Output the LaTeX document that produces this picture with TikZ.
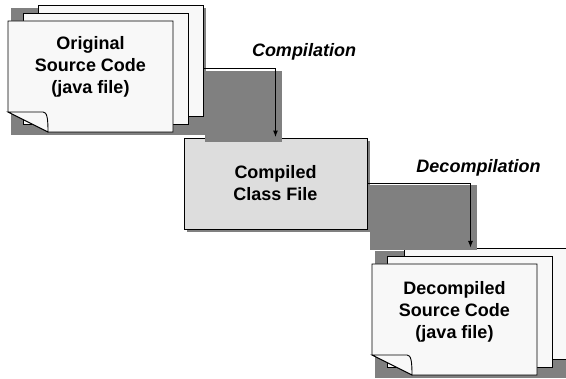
\documentclass[tikz,border=0pt]{standalone}
\usepackage{fontspec}
\setmainfont{Liberation Sans}
\usetikzlibrary{arrows.meta,fit,backgrounds}
\definecolor{sheetfill}{RGB}{248,248,248}
\definecolor{boxfill}{RGB}{221,221,221}
\definecolor{shadowgray}{RGB}{128,128,128}
\tikzset{
  sheet/.style={draw, fill=sheetfill, line width=0.9pt, minimum width=165pt, minimum height=111pt, inner sep=0pt, outer sep=0pt},
  doctext/.style={align=center, font=\fontsize{18}{22}\selectfont\bfseries},
  steplabel/.style={anchor=base, inner sep=0pt, font=\fontsize{18}{22}\selectfont\bfseries\itshape},
  flow/.style={line width=1.6pt, -{Latex[length=7pt,width=5pt]}},
  group/.style={inner sep=0pt, outer sep=0pt},
}
\begin{document}
\begin{tikzpicture}[x=1pt,y=-1pt]
    \useasboundingbox (0,0) rectangle (566,379);

    % 元のソースコード
    \node[sheet] (orig3) at (120.5,60.5) {};
    \node[sheet] (orig2) at (105.5,68.5) {};
    \node[sheet, draw=none, fill=none] (orig1) at (90.5,76.5) {};
    \filldraw[fill=sheetfill, line width=0.9pt] (orig1.north west) -- (orig1.north east) -- (orig1.south east)
      -- ([xshift=40pt]orig1.south west) -- ([yshift=20pt]orig1.south west) -- cycle;
    \filldraw[fill=sheetfill, line width=0.9pt] ([yshift=20pt]orig1.south west) -- ([shift={(35pt,20pt)}]orig1.south west)
      .. controls ([shift={(39pt,20pt)}]orig1.south west) and ([shift={(40pt,14pt)}]orig1.south west) .. ([xshift=40pt]orig1.south west) -- cycle;
    \node[doctext] (origtext) at ([yshift=10pt]orig1.center) {Original\\Source Code\\(java file)};
    \node[group, fit=(orig1)(orig3)] (origgrp) {};

    % クラスファイル
    \node[draw, fill=boxfill, line width=0.9pt, minimum width=183pt, minimum height=91pt, doctext] (compiled) at (275.5,183.5) {Compiled\\Class File};

    % 逆コンパイル後のソースコード
    \node[sheet] (decomp3) at (486.5,303.5) {};
    \node[sheet] (decomp2) at (469.5,311.5) {};
    \node[sheet, draw=none, fill=none] (decomp1) at (454.5,319.5) {};
    \filldraw[fill=sheetfill, line width=0.9pt] (decomp1.north west) -- (decomp1.north east) -- (decomp1.south east)
      -- ([xshift=40pt]decomp1.south west) -- ([yshift=20pt]decomp1.south west) -- cycle;
    \filldraw[fill=sheetfill, line width=0.9pt] ([yshift=20pt]decomp1.south west) -- ([shift={(35pt,20pt)}]decomp1.south west)
      .. controls ([shift={(39pt,20pt)}]decomp1.south west) and ([shift={(40pt,14pt)}]decomp1.south west) .. ([xshift=40pt]decomp1.south west) -- cycle;
    \node[doctext] (decomptext) at ([yshift=7.5pt]decomp1.center) {Decompiled\\Source Code\\(java file)};
    \node[group, fit=(decomp1)(decomp3)] (decompgrp) {};

    % 影
    \begin{pgfonlayer}{background}
      \fill[shadowgray] ([shift={(3pt,-3pt)}]origgrp.north west) rectangle ([shift={(3pt,-3pt)}]origgrp.south east);
      \fill[shadowgray] ([shift={(3pt,-3pt)}]compiled.north west) rectangle ([shift={(3pt,-3pt)}]compiled.south east);
      \fill[shadowgray] ([shift={(3pt,-3pt)}]decompgrp.north west) rectangle ([shift={(3pt,-3pt)}]decompgrp.south east);
    \end{pgfonlayer}

    % エッジ
    \fill[shadowgray] ([shift={(2pt,-2.5pt)}]origgrp.east) rectangle ([shift={(6.5pt,-4pt)}]compiled.north);
    \draw[flow] (origgrp.east) -| (compiled.north);
    \fill[shadowgray] ([shift={(3pt,-1.5pt)}]compiled.east) rectangle ([shift={(6.5pt,-2pt)}]decompgrp.north);
    \draw[flow] (compiled.east) -| (decompgrp.north);

    \node[steplabel] (complabel) at (304,57) {Compilation};
    \node[steplabel] (decomplabel) at (478.5,172.5) {Decompilation};
\end{tikzpicture}
\end{document}
